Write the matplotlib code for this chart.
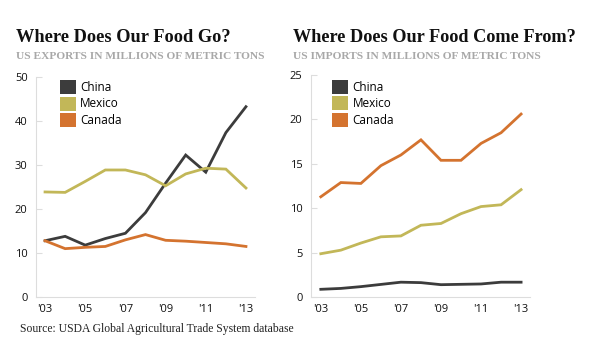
import matplotlib
matplotlib.use("Agg")
import matplotlib.pyplot as plt
from matplotlib.patches import Patch

years = list(range(2003, 2014))
xtick_years = [2003, 2005, 2007, 2009, 2011, 2013]
xtick_labels = ["'03", "'05", "'07", "'09", "'11", "'13"]

exp_china = [12.8, 13.8, 11.8, 13.3, 14.5, 19.2, 25.9, 32.3, 28.4, 37.4, 43.3]
exp_mexico = [23.9, 23.8, 26.3, 28.9, 28.9, 27.8, 25.3, 28.0, 29.3, 29.1, 24.8]
exp_canada = [12.8, 11.0, 11.3, 11.5, 13.0, 14.2, 12.9, 12.7, 12.4, 12.1, 11.5]

imp_china = [0.9, 1.0, 1.2, 1.45, 1.7, 1.65, 1.42, 1.46, 1.5, 1.7, 1.7]
imp_mexico = [4.9, 5.3, 6.1, 6.8, 6.9, 8.1, 8.3, 9.4, 10.2, 10.4, 12.1]
imp_canada = [11.3, 12.9, 12.8, 14.8, 16.0, 17.7, 15.4, 15.4, 17.3, 18.5, 20.6]

countries = ["China", "Mexico", "Canada"]
colors = {"China": "#3c3c3c", "Mexico": "#c2b758", "Canada": "#d4732f"}

fig = plt.figure(figsize=(6.0, 3.55), dpi=100)

tick_font = "Open Sans"
title_font = "Liberation Serif"

def style_axes(ax, ymax, ystep):
    ax.set_ylim(0, ymax)
    ax.set_yticks(list(range(0, ymax + 1, ystep)))
    ax.set_xticks(xtick_years)
    ax.set_xticklabels(xtick_labels)
    for s in ["top", "right"]:
        ax.spines[s].set_visible(False)
    for s in ["left", "bottom"]:
        ax.spines[s].set_color("#dddddd")
        ax.spines[s].set_linewidth(0.8)
    ax.tick_params(axis="y", direction="in", length=4, color="#dddddd",
                   labelsize=8, pad=6, labelcolor="#111111")
    ax.tick_params(axis="x", length=0, labelsize=8, pad=5, labelcolor="#111111")
    for lab in ax.get_xticklabels() + ax.get_yticklabels():
        lab.set_fontfamily(tick_font)

def add_legend(ax, x, y):
    handles = [Patch(facecolor=colors[c], edgecolor="none", label=c) for c in countries]
    leg = ax.legend(handles=handles, loc="upper left", bbox_to_anchor=(x, y),
                    frameon=False, handlelength=1.35, handleheight=1.45,
                    handletextpad=0.35, labelspacing=0.2,
                    prop={"family": tick_font, "size": 8.5})
    return leg

# Left: exports
ax1 = fig.add_axes([0.060, 0.1634, 0.365, 0.619])
ax1.set_xlim(2002.55, 2013.45)
for c, vals in zip(countries, [exp_china, exp_mexico, exp_canada]):
    ax1.plot(years, vals, color=colors[c], lw=2.0, solid_joinstyle="miter")
style_axes(ax1, 50, 10)
add_legend(ax1, 0.06, 1.035)

# Right: imports
ax2 = fig.add_axes([0.518, 0.1625, 0.3655, 0.6265])
ax2.set_xlim(2002.5, 2013.45)
for c, vals in zip(countries, [imp_china, imp_mexico, imp_canada]):
    ax2.plot(years, vals, color=colors[c], lw=2.0, solid_joinstyle="miter")
style_axes(ax2, 25, 5)
add_legend(ax2, 0.05, 1.025)

renderer = fig.canvas.get_renderer()

def fit_text(x0, x1, ycen, s, size, **kw):
    t = fig.text(x0 / 600, 1 - ycen / 355, s, fontsize=size, va="center", ha="left", **kw)
    w = t.get_window_extent(renderer).width
    t.set_fontsize(size * (x1 - x0) / w)
    return t

fit_text(16, 230, 38, "Where Does Our Food Go?", 14, fontfamily=title_font,
         fontweight="bold", color="#111111")
fit_text(16, 265, 56.5, "US EXPORTS IN MILLIONS OF METRIC TONS", 7, fontfamily=title_font,
         fontweight="bold", color="#a8a8a8")
fit_text(293, 577, 38, "Where Does Our Food Come From?", 14, fontfamily=title_font,
         fontweight="bold", color="#111111")
fit_text(293, 542, 56.5, "US IMPORTS IN MILLIONS OF METRIC TONS", 7, fontfamily=title_font,
         fontweight="bold", color="#a8a8a8")
fit_text(20, 297, 329, "Source: USDA Global Agricultural Trade System database", 7,
         fontfamily=title_font, color="#222222")

fig.savefig("out.png", dpi=100)
